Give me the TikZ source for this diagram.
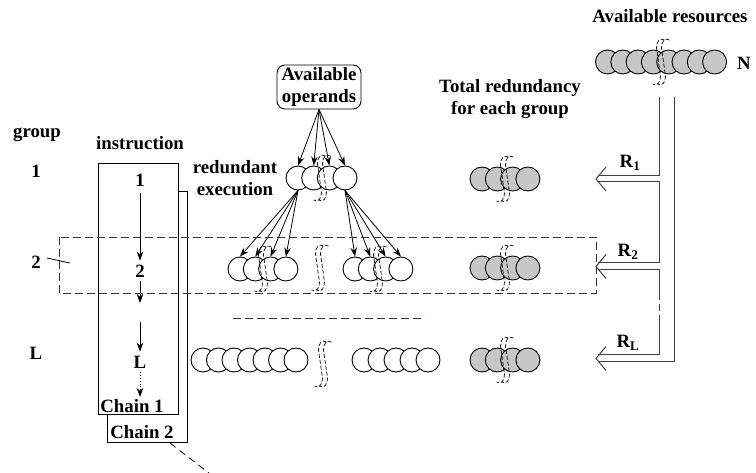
\documentclass[tikz,border=0pt]{standalone}
\usepackage{fontspec}
\setmainfont{Liberation Serif}
\usetikzlibrary{arrows.meta}
\newcommand\brkmark[2]{%
  \foreach \dx in {-2.5,2.5} {
    \draw[brkline] ({#1+\dx+6},{#2-22}) .. controls ({#1+\dx+1},{#2-25}) and ({#1+\dx-2},{#2-20}) .. ({#1+\dx-2},{#2-14}) -- ({#1+\dx+2},{#2+14}) .. controls ({#1+\dx+2},{#2+20}) and ({#1+\dx-1},{#2+25}) .. ({#1+\dx-6},{#2+22});
  }}
\begin{document}
\begin{tikzpicture}[x=1pt,y=-1pt,
  every node/.style={font=\fontsize{18.8}{22}\selectfont\bfseries},
  wc/.style={circle,draw,line width=0.9pt,fill=white,minimum size=24pt,inner sep=0pt},
  gc/.style={circle,draw,line width=0.9pt,fill=black!22,minimum size=24pt,inner sep=0pt},
  arr/.style={-{Stealth[length=9pt,width=6.5pt]},line width=0.8pt},
  brkline/.style={dash pattern=on 4pt off 2pt,line width=0.7pt},
  boxst/.style={draw,line width=0.9pt,fill=white,inner sep=0pt},
  dl/.style={line width=1pt,draw=black!75},
  dsh/.style={dash pattern=on 8pt off 4pt,line width=0.9pt,draw=black!80},
]
\useasboundingbox (0,0) rectangle (756,473);

% titles
\node (avres) at (670,16) {Available resources};
\node (nlab) at (744,63) {N};
\node[align=center] (tot) at (510,99) {Total redundancy\\for each group};
\node (grp) at (37,135) {group};
\node (ins) at (140,143) {instruction};
\node (gl1) at (36,171) {1};
\node (gl2) at (36,262) {2};
\node (glL) at (36,353) {L};
\node[align=center] (redex) at (235,178) {redundant\\execution};

% available resources row
\foreach \i in {0,...,7} \node[gc] (res\i) at ({607.5+15.3*\i},62) {};
\brkmark{661}{62}

% available operands
\node[boxst, rounded corners=8pt, align=center, minimum width=84pt, minimum height=44pt] (ops) at (319,87) {Available\\operands};

% chain boxes
\node[boxst,anchor=north west,minimum width=80pt,minimum height=251pt] (ch2) at (107,191) {};
\node[boxst,anchor=north west,minimum width=80pt,minimum height=251pt] (ch1) at (98,163) {};
\node (ch1t) at (132,406) {Chain 1};
\node (ch2t) at (142,432) {Chain 2};
\coordinate (cc1) at (170,443);
\coordinate (cc2) at (214,477);
\draw[dash pattern=on 7pt off 5pt,line width=0.8pt] (cc1) -- (cc2);

% instruction chain
\node[inner sep=4pt] (i1) at (140,180) {1};
\node[inner sep=4pt] (i2) at (140,271) {2};
\node[inner sep=4pt] (iL) at (140,362) {L};
\coordinate (c2) at (140,303);
\coordinate (c3) at (140,322);
\coordinate (c4) at (140,397);
\draw[arr,shorten <=3pt] (i1) -- (i2);
\draw[arr] (i2) -- (c2);
\draw[arr] (c3) -- (iL);
\draw[arr,dotted] (iL) -- (c4);

% group 1 redundant execution
\foreach \i/\xx in {1/298,2/313.7,3/329.3,4/345} \node[wc] (a\i) at (\xx,178) {};
\brkmark{322}{178}
% group 2
\foreach \i in {1,...,4} \node[wc] (b\i) at ({240+15.3*(\i-1)},269) {};
\foreach \i in {1,...,4} \node[wc] (c\i) at ({355+15.3*(\i-1)},269) {};
\brkmark{263}{269}
\brkmark{378}{269}
\brkmark{320}{268}
% group L
\foreach \i in {1,...,7} \node[wc] (d\i) at ({203+15.5*(\i-1)},360) {};
\foreach \i in {1,...,5} \node[wc] (e\i) at ({364+16*(\i-1)},360) {};
\brkmark{323}{364}

% fans
\foreach \i in {1,...,4} \draw[arr] (ops.south) -- (a\i.north);
\foreach \i in {1,...,4} \draw[arr] (a1.south) -- (b\i.north);
\foreach \i in {1,...,4} \draw[arr] (a4.south) -- (c\i.north);

% total redundancy groups
\foreach \r/\yy in {1/179,2/268,L/360} {
  \foreach \i in {1,...,4} \node[gc] (g\r\i) at ({482+15.3*(\i-1)},\yy) {};
  \brkmark{505}{\yy}
}

% dashed separators
\draw[dsh] (233,318) -- (425,318);
\draw[dsh] (59,237) rectangle (596,293);
\draw[line width=0.8pt] (47,258) -- (70,263);

% resource bus
\draw[dl] (659,97) -- (659,176) -- (598,176);
\draw[dl] (598,182) -- (659,182) -- (659,263) -- (598,263);
\draw[dl] (598,270) -- (659,270) -- (659,300);
\draw[dl] (659,304) -- (659,311);
\draw[dl] (659,315) -- (659,355) -- (598,355);
\draw[dl] (598,362) -- (674,362) -- (674,97);
\foreach \yy in {179,266.5,358.5} \draw[dl] (606,{\yy-12}) -- (596,\yy) -- (606,{\yy+12});
\node (r1) at (630,163) {R\textsubscript{1}};
\node (r2) at (628,252) {R\textsubscript{2}};
\node (rL) at (628,343) {R\textsubscript{L}};
\end{tikzpicture}
\end{document}
